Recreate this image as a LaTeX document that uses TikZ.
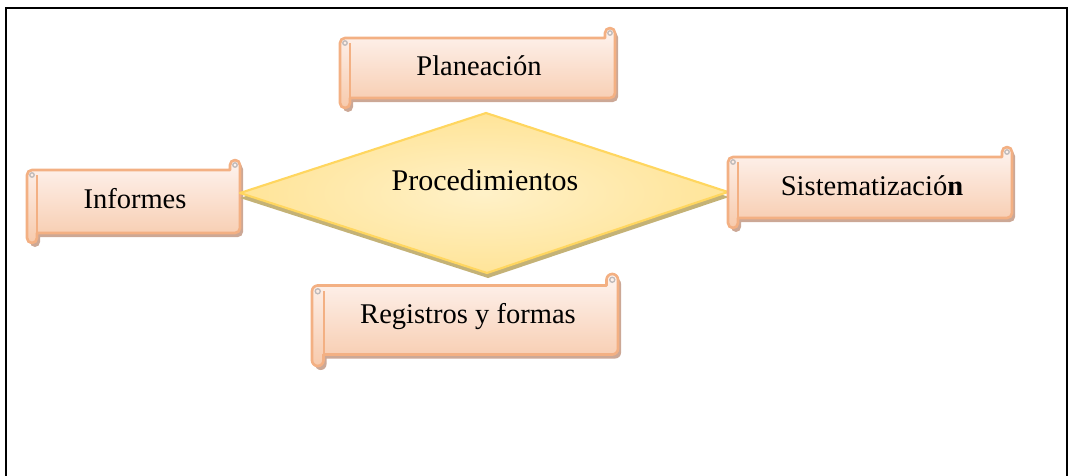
\documentclass[tikz,border=0pt]{standalone}
\usepackage{fontspec}
\setmainfont{Liberation Serif}

\definecolor{scrollline}{RGB}{243,176,131}
\definecolor{scrolltop}{RGB}{254,244,240}
\definecolor{scrollbot}{RGB}{247,202,172}
\definecolor{scrollshade}{RGB}{204,168,150}
\definecolor{scrollcurl}{RGB}{190,185,185}
\definecolor{diamline}{RGB}{255,214,95}
\definecolor{diamin}{RGB}{255,241,200}
\definecolor{diamout}{RGB}{255,228,152}
\definecolor{diamshade}{RGB}{196,178,118}

\tikzset{every picture/.style={line width=0.75pt}}
\tikzset{
  scrollfill/.style={draw=scrollline,line width=2pt,top color=scrolltop,bottom color=scrollbot,line join=round},
  scrollshadow/.style={fill=scrollshade,shift={(3,4)}},
  scrolltext/.style={anchor=base,inner sep=0.75pt,font=\fontsize{21.4}{25}\selectfont}
}

% horizontal scroll: left, top, right, bottom, curl size
\newcommand{\scrollbox}[5]{%
  \fill[scrollshadow] (#3-#5,#2+#5) -- (#3-#5,#2+0.5*#5) arc[start angle=180,end angle=360,radius=0.5*#5] -- (#3,#4-1.5*#5) arc[start angle=0,end angle=90,radius=0.5*#5] -- (#1+#5,#4-#5) -- (#1+#5,#4-0.5*#5) arc[start angle=0,end angle=180,radius=0.5*#5] -- (#1,#2+1.5*#5) arc[start angle=180,end angle=270,radius=0.5*#5] -- cycle ;
  \draw[scrollfill] (#3-#5,#2+#5) -- (#3-#5,#2+0.5*#5) arc[start angle=180,end angle=360,radius=0.5*#5] -- (#3,#4-1.5*#5) arc[start angle=0,end angle=90,radius=0.5*#5] -- (#1+#5,#4-#5) -- (#1+#5,#4-0.5*#5) arc[start angle=0,end angle=180,radius=0.5*#5] -- (#1,#2+1.5*#5) arc[start angle=180,end angle=270,radius=0.5*#5] -- cycle ;
  \draw[scrollline,line width=1.5pt] (#1+#5,#2+1.5*#5) -- (#1+#5,#4-#5) ;
  \draw[scrollcurl,line width=1pt] (#1+0.5*#5,#2+1.5*#5) circle [radius=0.22*#5] ;
  \draw[scrollcurl,line width=1pt] (#3-0.5*#5,#2+0.5*#5) circle [radius=0.22*#5] ;
}

\begin{document}
\begin{tikzpicture}[x=0.75pt,y=0.75pt,yscale=-1,xscale=1]
\useasboundingbox (0,0) rectangle (1069,475);

%Frame
\draw [line width=1.2pt]  (6,480) -- (6,8) -- (1067,8) -- (1067,480) ;

%Scrolls
\scrollbox{340}{28}{615}{108}{10}
\scrollbox{27}{160}{240}{243}{10}

%Diamond
\fill [diamshade]  (487,118) -- (729,197) -- (488,278) -- (240,198) -- cycle ;
\draw [draw=diamline, line width=1.6pt, inner color=diamin, outer color=diamout, line join=round]  (486,113) -- (728,192) -- (487,273) -- (240,193) -- cycle ;

\scrollbox{728}{147}{1012}{228}{10}
\scrollbox{312}{274}{618}{366}{11.5}

% Text Node
\draw (479,75) node (plan) [scrolltext]  {Planeación};
% Text Node
\draw (135,208) node (inf) [scrolltext]  {Informes};
% Text Node
\draw (872,195) node (sist) [scrolltext]  {Sistematizació\textbf{n}};
% Text Node
\draw (468,323) node (reg) [scrolltext]  {Registros y formas};
% Text Node
\draw (485,190) node (proc) [scrolltext,font=\fontsize{22.5}{26}\selectfont]  {Procedimientos};

\end{tikzpicture}
\end{document}
